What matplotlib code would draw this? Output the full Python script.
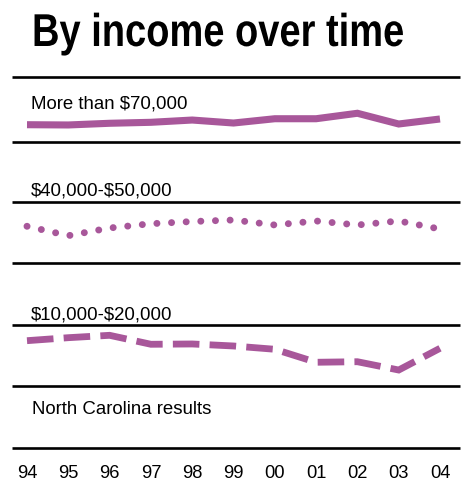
import matplotlib
matplotlib.use('Agg')
import matplotlib.pyplot as plt
from matplotlib.patheffects import AbstractPathEffect
from matplotlib.transforms import Affine2D

# index values (0-10 scale inside each band)
years = [1994, 1995, 1996, 1997, 1998, 1999, 2000, 2001, 2002, 2003, 2004]
year_labels = ['94', '95', '96', '97', '98', '99', '00', '01', '02', '03', '04']
over_70k = [2.66, 2.62, 2.88, 3.03, 3.38, 2.92, 3.58, 3.58, 4.42, 2.77, 3.54]
mid_40_50k = [6.02, 4.48, 5.74, 6.44, 6.80, 7.05, 6.23, 6.89, 6.23, 6.89, 5.57]
low_10_20k = [7.43, 7.92, 8.31, 6.84, 6.89, 6.56, 6.02, 3.89, 3.98, 2.62, 6.18]
series_labels = [r'More than \$70,000', r'\$40,000-\$50,000', r'\$10,000-\$20,000']

PURPLE = '#a8579a'
W, H = 469, 485
FONT = 'Liberation Sans'


class Stretch(AbstractPathEffect):
    """stretch text vertically around its baseline (display px) to fake a condensed face"""
    def __init__(self, sy, y0):
        super().__init__()
        self.sy = sy
        self.y0 = y0

    def draw_path(self, renderer, gc, tpath, affine, rgbFace=None):
        tall = Affine2D().translate(0, -self.y0).scale(1, self.sy).translate(0, self.y0)
        renderer.draw_path(gc, tpath, affine + tall, rgbFace)


fig = plt.figure(figsize=(W / 100, H / 100), dpi=100)

# background axes in pixel coordinates for rules and text
bg = fig.add_axes([0, 0, 1, 1])
bg.set_xlim(0, W)
bg.set_ylim(H, 0)
bg.axis('off')

rules = [78, 143, 203, 264, 326, 387, 449]
for y in rules:
    bg.plot([12, 460], [y, y], color='black', lw=1.9, solid_capstyle='butt')

title_base = 47
bg.text(32, title_base, 'By income over time', fontsize=27.4, fontweight='bold',
        family=FONT, va='baseline', ha='left',
        path_effects=[Stretch(1.21, H - title_base)])

label_base = [108.5, 196, 319.5]
for y, s in zip(label_base, series_labels):
    bg.text(31, y, s, fontsize=13.4, family=FONT, va='baseline')
bg.text(32, 414.5, 'North Carolina results', fontsize=13.4,
        family=FONT, va='baseline')

x0, x1 = 27, 440


def band_axes(top_px, bot_px):
    ax = fig.add_axes([x0 / W, 1 - bot_px / H, (x1 - x0) / W, (bot_px - top_px) / H])
    ax.set_xlim(1994, 2004)
    ax.set_ylim(0, 10)
    ax.axis('off')
    return ax


ax1 = band_axes(78, 143)
ax1.plot(years, over_70k, color=PURPLE, lw=5.1, solid_capstyle='butt',
         solid_joinstyle='miter', clip_on=False)

ax2 = band_axes(203, 264)
ax2.plot(years, mid_40_50k, color=PURPLE, lw=5.0, linestyle=(0, (0.01, 2.1)),
         dash_capstyle='round', clip_on=False)

ax3 = band_axes(326, 387)
ax3.plot(years, low_10_20k, color=PURPLE, lw=4.9, linestyle=(0, (3.9, 1.5)),
         dash_capstyle='butt', dash_joinstyle='miter', clip_on=False)

# year labels along the bottom, baseline near 478px
ax_t = band_axes(449, 485)
ax_t.set_ylim(485, 449)
for yr, lab in zip(years, year_labels):
    ax_t.text(yr, 478, lab, fontsize=13.2, family=FONT, ha='center', va='baseline')

fig.savefig('out.png', dpi=100)
